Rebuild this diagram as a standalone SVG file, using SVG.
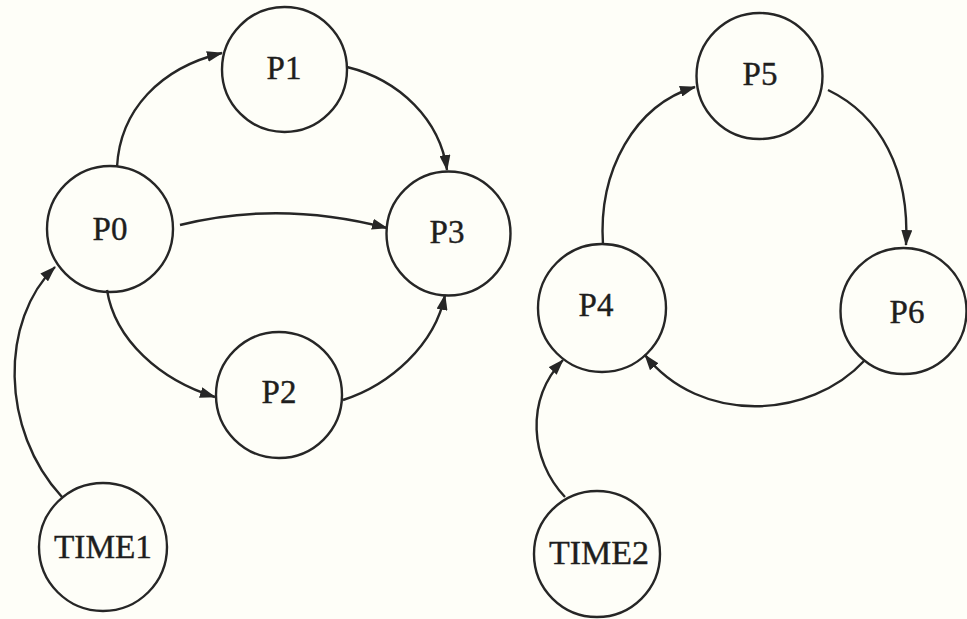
<svg xmlns="http://www.w3.org/2000/svg" width="967" height="619" viewBox="0 0 967 619">
<defs>
<marker id="arr" markerUnits="userSpaceOnUse" markerWidth="16" markerHeight="11" refX="15" refY="5.5" orient="auto">
<path d="M0,0 L16,5.5 L0,11 z" fill="#262626"/>
</marker>
<style>
.node circle{fill:none;stroke:#262626;stroke-width:2.4}
.node text{font-family:"Liberation Serif","Times New Roman",serif;font-size:33px;fill:#1e1e1e;stroke:#1e1e1e;stroke-width:0.4;text-anchor:middle;dominant-baseline:central}
.edge{fill:none;stroke:#262626;stroke-width:2.4;marker-end:url(#arr)}
</style>
</defs>
<rect x="0" y="0" width="967" height="619" fill="#fefef8"/>
<g id="connectors">
<path class="edge" d="M117,167 C120,110 160,68 222,53"/>
<path class="edge" d="M347,67 C400,80 440,120 447,170"/>
<path class="edge" d="M180,225 Q280,200 387,228"/>
<path class="edge" d="M107,290 C115,340 160,380 215,397"/>
<path class="edge" d="M343,400 C390,385 435,345 445,295"/>
<path class="edge" d="M62,497 C0,430 0,320 55,267"/>
<path class="edge" d="M603,245 C598,170 635,105 695,87"/>
<path class="edge" d="M828,90 C880,115 910,170 906,245"/>
<path class="edge" d="M865,360 C810,420 700,425 645,355"/>
<path class="edge" d="M565,497 C530,460 525,400 563,360"/>
</g>
<g id="P0" class="node"><circle cx="110" cy="229" r="63"/><text x="110" y="229">P0</text></g>
<g id="P1" class="node"><circle cx="284.5" cy="69.5" r="62.5"/><text x="284" y="68">P1</text></g>
<g id="P2" class="node"><circle cx="279" cy="395" r="63"/><text x="279" y="392">P2</text></g>
<g id="P3" class="node"><circle cx="448.5" cy="233.5" r="62"/><text x="447" y="232">P3</text></g>
<g id="TIME1" class="node"><circle cx="103" cy="547" r="64"/><text x="103" y="547" textLength="98" lengthAdjust="spacingAndGlyphs">TIME1</text></g>
<g id="P5" class="node"><circle cx="759.5" cy="76" r="63"/><text x="760" y="74">P5</text></g>
<g id="P4" class="node"><circle cx="602" cy="308" r="64"/><text x="596" y="305">P4</text></g>
<g id="P6" class="node"><circle cx="903.5" cy="311" r="63"/><text x="907" y="312">P6</text></g>
<g id="TIME2" class="node"><circle cx="597" cy="554" r="63"/><text x="599" y="553" textLength="100" lengthAdjust="spacingAndGlyphs">TIME2</text></g>
</svg>
